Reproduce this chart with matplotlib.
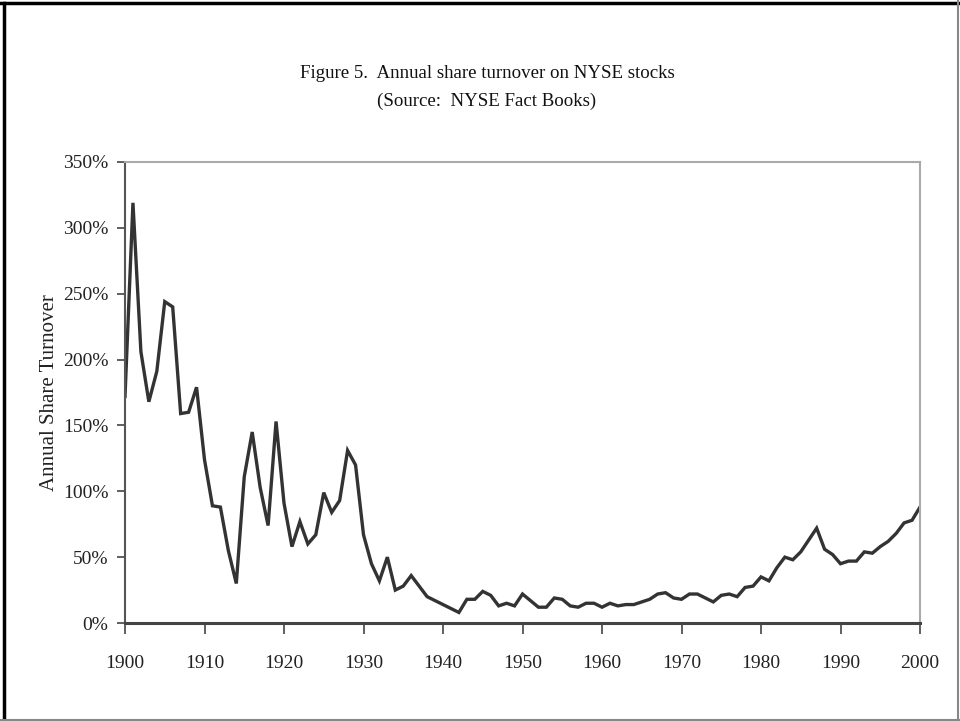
import matplotlib.pyplot as plt
from matplotlib.lines import Line2D
from matplotlib.ticker import FuncFormatter

# Jahreswerte der Umschlagsquote (in %)
years = list(range(1900, 2001))
turnover = [
    172, 319, 206, 168, 191, 244, 240, 159, 160, 179,   # 1900-1909
    124, 89, 88, 55, 30, 111, 145, 103, 74, 153,        # 1910-1919
    91, 58, 77, 60, 67, 99, 84, 93, 131, 120,           # 1920-1929
    67, 45, 32, 50, 25, 28, 36, 28, 20, 17,             # 1930-1939
    14, 11, 8, 18, 18, 24, 21, 13, 15, 13,              # 1940-1949
    22, 17, 12, 12, 19, 18, 13, 12, 15, 15,             # 1950-1959
    12, 15, 13, 14, 14, 16, 18, 22, 23, 19,             # 1960-1969
    18, 22, 22, 19, 16, 21, 22, 20, 27, 28,             # 1970-1979
    35, 32, 42, 50, 48, 54, 63, 72, 56, 52,             # 1980-1989
    45, 47, 47, 54, 53, 58, 62, 68, 76, 78,             # 1990-1999
    88,                                                 # 2000
]
x_ticks = list(range(1900, 2001, 10))
y_ticks = list(range(0, 351, 50))

title_lines = ['Figure 5.  Annual share turnover on NYSE stocks',
               '(Source:  NYSE Fact Books)']
y_label = 'Annual Share Turnover'

plt.rcParams['font.family'] = ['Liberation Serif', 'DejaVu Serif']

fig = plt.figure(figsize=(9.6, 7.21), dpi=100)
ax = fig.add_axes([125 / 960, 1 - 623 / 721, 795 / 960, 461 / 721])

ax.plot(years, turnover, color='#333333', linewidth=2.4, solid_joinstyle='miter')

ax.set_xlim(1900, 2000)
ax.set_ylim(0, 350)
ax.set_xticks(x_ticks)
ax.set_yticks(y_ticks)
ax.yaxis.set_major_formatter(FuncFormatter(lambda v, p: f'{int(v)}%'))

ax.tick_params(axis='x', direction='out', length=8, width=1.2, color='#444444',
               pad=15, labelsize=14, labelcolor='#222222')
ax.tick_params(axis='y', direction='out', length=6, width=1.2, color='#444444',
               pad=6, labelsize=14, labelcolor='#222222')

ax.spines['left'].set_color('#555555')
ax.spines['left'].set_linewidth(1.5)
ax.spines['bottom'].set_color('#444444')
ax.spines['bottom'].set_linewidth(2.2)
for s in ['top', 'right']:
    ax.spines[s].set_color('#aaaaaa')
    ax.spines[s].set_linewidth(1.5)

ax.set_ylabel(y_label, fontsize=15, color='#222222', labelpad=3)

fig.text(487 / 960, 1 - 73 / 721, title_lines[0], ha='center', va='center',
         fontsize=13.6, color='#111111')
fig.text(487 / 960, 1 - 101 / 721, title_lines[1], ha='center', va='center',
         fontsize=13.6, color='#111111')

# Rahmen um das ganze Bild
fig.add_artist(Line2D([0.004, 0.004], [0.0, 0.996], color='black', linewidth=2.5))
fig.add_artist(Line2D([0.0, 1.0], [0.996, 0.996], color='black', linewidth=2.5))
fig.add_artist(Line2D([0.0, 1.0], [0.002, 0.002], color='#888888', linewidth=1.5))
fig.add_artist(Line2D([0.998, 0.998], [0.0, 1.0], color='#888888', linewidth=1.5))

fig.savefig('out.png', dpi=100)
